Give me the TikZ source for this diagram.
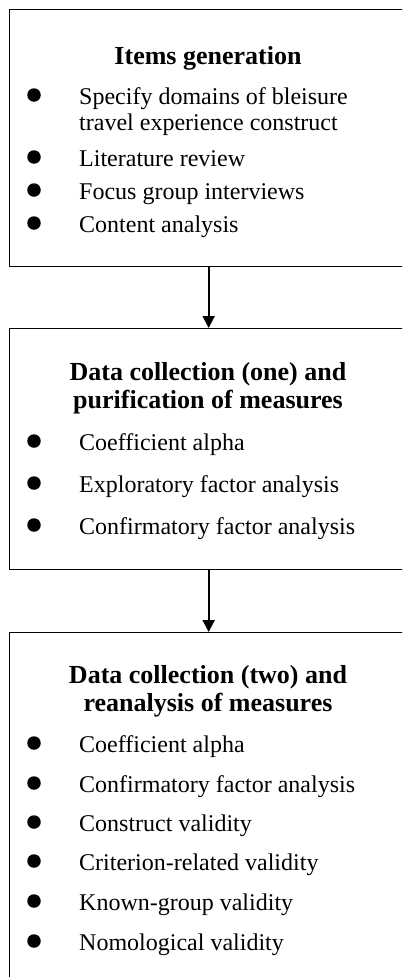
\documentclass[tikz,border=0pt]{standalone}
\usepackage{fontspec}
\setmainfont{Liberation Serif}
\usetikzlibrary{arrows.meta}
\begin{document}
\begin{tikzpicture}[x=1pt,y=-1pt,
  boxst/.style={draw=black, line width=1.3pt, rectangle, inner sep=0pt, anchor=north west, minimum width=398pt},
  ttl/.style={font=\fontsize{26}{30}\selectfont\bfseries, inner sep=0pt, anchor=base},
  itm/.style={font=\fontsize{24}{28}\selectfont, inner sep=0pt, anchor=base west},
  bul/.style={circle, fill=black, inner sep=0pt, minimum size=13.5pt},
  arr/.style={line width=2pt, -{Triangle[width=12pt,length=12pt]}}]
\useasboundingbox (0,0) rectangle (402,977);
\clip (0,0) rectangle (402,977);
\fill[white] (0,0) rectangle (402,977);
% boxes
\node[boxst, minimum height=257pt] (b1) at (9,9) {};
\node[boxst, minimum height=241pt] (b2) at (9,328) {};
\node[boxst, minimum height=380pt] (b3) at (9,632) {};
% arrows
\draw[arr] (b1.south) -- (b2.north);
\draw[arr] (b2.south) -- (b3.north);
% box 1
\node[ttl] (t1) at (208,64) {Items generation};
\node[bul] (p11) at (34,95) {};
\node[itm] (i11) at (79,104) {Specify domains of bleisure};
\node[itm] (i11b) at (79,130) {travel experience construct};
\node[bul] (p12) at (34,157) {};
\node[itm] (i12) at (79,166) {Literature review};
\node[bul] (p13) at (34,190) {};
\node[itm] (i13) at (79,199) {Focus group interviews};
\node[bul] (p14) at (34,223) {};
\node[itm] (i14) at (79,232) {Content analysis};
% box 2
\node[ttl] (t2a) at (208,380) {Data collection (one) and};
\node[ttl] (t2b) at (208,408) {purification of measures};
\node[bul] (p21) at (34,441) {};
\node[itm] (i21) at (79,450) {Coefficient alpha};
\node[bul] (p22) at (34,483) {};
\node[itm] (i22) at (79,492) {Exploratory factor analysis};
\node[bul] (p23) at (34,525) {};
\node[itm] (i23) at (79,534) {Confirmatory factor analysis};
% box 3
\node[ttl] (t3a) at (208,683) {Data collection (two) and};
\node[ttl] (t3b) at (208,711) {reanalysis of measures};
\node[bul] (p31) at (34,743) {};
\node[itm] (i31) at (79,752) {Coefficient alpha};
\node[bul] (p32) at (34,783) {};
\node[itm] (i32) at (79,792) {Confirmatory factor analysis};
\node[bul] (p33) at (34,822) {};
\node[itm] (i33) at (79,831) {Construct validity};
\node[bul] (p34) at (34,861) {};
\node[itm] (i34) at (79,870) {Criterion-related validity};
\node[bul] (p35) at (34,901) {};
\node[itm] (i35) at (79,910) {Known-group validity};
\node[bul] (p36) at (34,941) {};
\node[itm] (i36) at (79,950) {Nomological validity};
\end{tikzpicture}
\end{document}
